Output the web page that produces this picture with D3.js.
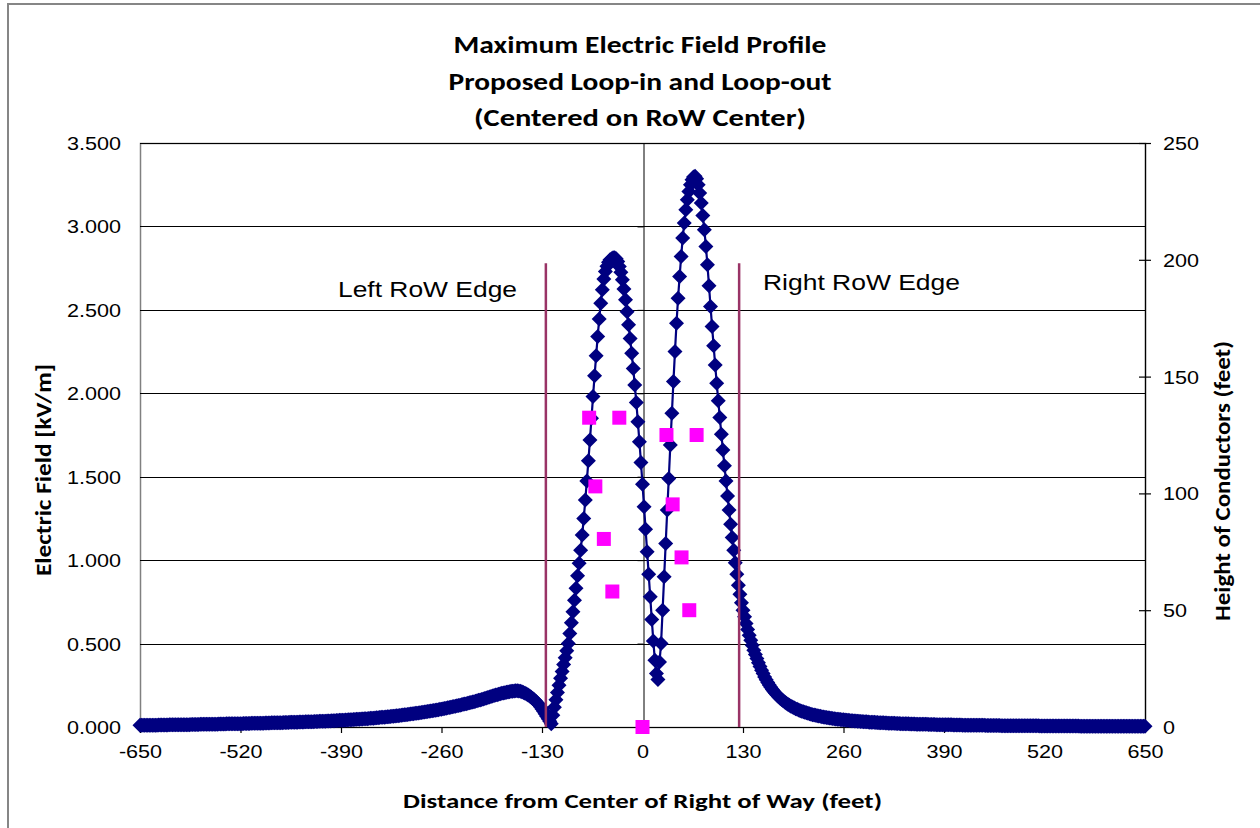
<!DOCTYPE html>
<html>
<head>
<meta charset="utf-8">
<script src="https://cdn.jsdelivr.net/npm/d3@7"></script>
<style>
  html, body { margin: 0; padding: 0; background: #fff; }
  svg { display: block; }
</style>
</head>
<body>
<svg id="chart" width="1260" height="828"></svg>
<script>
// Electric field profile sampled every 2 ft from -650 ft to +650 ft (kV/m)
const startFt = -650;
const stepFt = 2;
const fieldKV = [
  /* -650 */ 0.010,0.010,0.010,0.010,0.011,
  /* -640 */ 0.011,0.011,0.011,0.011,0.011,
  /* -630 */ 0.011,0.011,0.012,0.012,0.012,
  /* -620 */ 0.012,0.012,0.012,0.012,0.013,
  /* -610 */ 0.013,0.013,0.013,0.013,0.013,
  /* -600 */ 0.013,0.013,0.014,0.014,0.014,
  /* -590 */ 0.014,0.014,0.014,0.015,0.015,
  /* -580 */ 0.015,0.015,0.015,0.015,0.016,
  /* -570 */ 0.016,0.016,0.016,0.016,0.016,
  /* -560 */ 0.017,0.017,0.017,0.017,0.017,
  /* -550 */ 0.017,0.018,0.018,0.018,0.018,
  /* -540 */ 0.018,0.019,0.019,0.019,0.019,
  /* -530 */ 0.019,0.020,0.020,0.020,0.020,
  /* -520 */ 0.020,0.020,0.021,0.021,0.021,
  /* -510 */ 0.021,0.021,0.022,0.022,0.022,
  /* -500 */ 0.022,0.022,0.023,0.023,0.023,
  /* -490 */ 0.023,0.024,0.024,0.024,0.024,
  /* -480 */ 0.025,0.025,0.025,0.025,0.026,
  /* -470 */ 0.026,0.026,0.026,0.027,0.027,
  /* -460 */ 0.027,0.027,0.028,0.028,0.028,
  /* -450 */ 0.029,0.029,0.029,0.030,0.030,
  /* -440 */ 0.030,0.030,0.031,0.031,0.031,
  /* -430 */ 0.032,0.032,0.032,0.033,0.033,
  /* -420 */ 0.033,0.034,0.034,0.034,0.035,
  /* -410 */ 0.035,0.036,0.036,0.036,0.037,
  /* -400 */ 0.038,0.038,0.039,0.039,0.040,
  /* -390 */ 0.040,0.041,0.041,0.042,0.042,
  /* -380 */ 0.043,0.043,0.044,0.045,0.045,
  /* -370 */ 0.046,0.046,0.047,0.048,0.048,
  /* -360 */ 0.049,0.050,0.050,0.051,0.052,
  /* -350 */ 0.053,0.053,0.054,0.055,0.056,
  /* -340 */ 0.057,0.058,0.058,0.059,0.060,
  /* -330 */ 0.061,0.062,0.063,0.064,0.065,
  /* -320 */ 0.066,0.067,0.068,0.069,0.070,
  /* -310 */ 0.072,0.073,0.074,0.075,0.076,
  /* -300 */ 0.078,0.079,0.080,0.082,0.083,
  /* -290 */ 0.084,0.086,0.087,0.088,0.090,
  /* -280 */ 0.091,0.093,0.094,0.096,0.097,
  /* -270 */ 0.099,0.101,0.102,0.104,0.106,
  /* -260 */ 0.107,0.109,0.111,0.113,0.115,
  /* -250 */ 0.117,0.119,0.121,0.123,0.125,
  /* -240 */ 0.127,0.129,0.131,0.133,0.136,
  /* -230 */ 0.138,0.140,0.143,0.145,0.147,
  /* -220 */ 0.150,0.152,0.155,0.157,0.160,
  /* -210 */ 0.162,0.165,0.168,0.171,0.174,
  /* -200 */ 0.177,0.180,0.183,0.186,0.189,
  /* -190 */ 0.192,0.194,0.197,0.199,0.202,
  /* -180 */ 0.204,0.206,0.208,0.210,0.212,
  /* -170 */ 0.214,0.215,0.216,0.217,0.217,
  /* -160 */ 0.216,0.214,0.211,0.207,0.203,
  /* -150 */ 0.198,0.192,0.186,0.179,0.171,
  /* -140 */ 0.163,0.154,0.144,0.133,0.121,
  /* -130 */ 0.108,0.094,0.079,0.064,0.049,
  /* -120 */ 0.034,0.020,0.070,0.118,0.163,
  /* -110 */ 0.207,0.250,0.292,0.333,0.374,
  /* -100 */ 0.415,0.457,0.500,0.560,0.625,
  /*  -90 */ 0.690,0.760,0.832,0.906,0.982,
  /*  -80 */ 1.060,1.150,1.250,1.360,1.475,
  /*  -70 */ 1.595,1.720,1.850,1.980,2.105,
  /*  -60 */ 2.225,2.340,2.445,2.540,2.620,
  /*  -50 */ 2.685,2.730,2.762,2.785,2.800,
  /*  -40 */ 2.806,2.812,2.813,2.806,2.790,
  /*  -30 */ 2.760,2.725,2.680,2.625,2.560,
  /*  -20 */ 2.488,2.410,2.328,2.240,2.148,
  /*  -10 */ 2.050,1.945,1.830,1.710,1.585,
  /*    0 */ 1.455,1.320,1.185,1.050,0.915,
  /*   10 */ 0.780,0.645,0.515,0.400,0.320,
  /*   20 */ 0.285,0.390,0.500,0.700,0.900,
  /*   30 */ 1.100,1.300,1.490,1.690,1.880,
  /*   40 */ 2.070,2.250,2.420,2.570,2.700,
  /*   50 */ 2.820,2.930,3.020,3.100,3.160,
  /*   60 */ 3.210,3.250,3.280,3.296,3.300,
  /*   70 */ 3.285,3.250,3.200,3.140,3.065,
  /*   80 */ 2.980,2.880,2.770,2.645,2.520,
  /*   90 */ 2.400,2.285,2.170,2.060,1.955,
  /*  100 */ 1.855,1.755,1.660,1.565,1.475,
  /*  110 */ 1.385,1.300,1.215,1.135,1.060,
  /*  120 */ 0.985,0.915,0.850,0.795,0.745,
  /*  130 */ 0.700,0.660,0.620,0.585,0.550,
  /*  140 */ 0.520,0.490,0.460,0.435,0.410,
  /*  150 */ 0.385,0.362,0.340,0.320,0.300,
  /*  160 */ 0.283,0.267,0.252,0.238,0.225,
  /*  170 */ 0.213,0.202,0.192,0.182,0.173,
  /*  180 */ 0.165,0.157,0.150,0.143,0.137,
  /*  190 */ 0.131,0.125,0.120,0.115,0.110,
  /*  200 */ 0.106,0.102,0.098,0.094,0.091,
  /*  210 */ 0.088,0.085,0.082,0.079,0.076,
  /*  220 */ 0.074,0.072,0.070,0.068,0.066,
  /*  230 */ 0.064,0.062,0.060,0.058,0.057,
  /*  240 */ 0.055,0.054,0.052,0.051,0.050,
  /*  250 */ 0.048,0.047,0.046,0.045,0.044,
  /*  260 */ 0.043,0.042,0.041,0.040,0.039,
  /*  270 */ 0.038,0.037,0.036,0.036,0.035,
  /*  280 */ 0.034,0.033,0.033,0.032,0.031,
  /*  290 */ 0.031,0.030,0.029,0.029,0.028,
  /*  300 */ 0.028,0.027,0.027,0.026,0.026,
  /*  310 */ 0.025,0.025,0.024,0.024,0.023,
  /*  320 */ 0.023,0.023,0.022,0.022,0.021,
  /*  330 */ 0.021,0.021,0.020,0.020,0.020,
  /*  340 */ 0.019,0.019,0.019,0.018,0.018,
  /*  350 */ 0.018,0.018,0.017,0.017,0.017,
  /*  360 */ 0.017,0.016,0.016,0.016,0.016,
  /*  370 */ 0.015,0.015,0.015,0.015,0.015,
  /*  380 */ 0.014,0.014,0.014,0.014,0.014,
  /*  390 */ 0.013,0.013,0.013,0.013,0.013,
  /*  400 */ 0.013,0.012,0.012,0.012,0.012,
  /*  410 */ 0.012,0.012,0.011,0.011,0.011,
  /*  420 */ 0.011,0.011,0.011,0.011,0.010,
  /*  430 */ 0.010,0.010,0.010,0.010,0.010,
  /*  440 */ 0.010,0.010,0.009,0.009,0.009,
  /*  450 */ 0.009,0.009,0.009,0.009,0.009,
  /*  460 */ 0.009,0.009,0.008,0.008,0.008,
  /*  470 */ 0.008,0.008,0.008,0.008,0.008,
  /*  480 */ 0.008,0.008,0.008,0.007,0.007,
  /*  490 */ 0.007,0.007,0.007,0.007,0.007,
  /*  500 */ 0.007,0.007,0.007,0.007,0.007,
  /*  510 */ 0.007,0.007,0.006,0.006,0.006,
  /*  520 */ 0.006,0.006,0.006,0.006,0.006,
  /*  530 */ 0.006,0.006,0.006,0.006,0.006,
  /*  540 */ 0.006,0.006,0.006,0.006,0.006,
  /*  550 */ 0.006,0.006,0.006,0.006,0.006,
  /*  560 */ 0.006,0.006,0.006,0.005,0.005,
  /*  570 */ 0.005,0.005,0.005,0.005,0.005,
  /*  580 */ 0.005,0.005,0.005,0.005,0.005,
  /*  590 */ 0.005,0.005,0.005,0.005,0.005,
  /*  600 */ 0.005,0.005,0.005,0.005,0.005,
  /*  610 */ 0.005,0.005,0.005,0.005,0.005,
  /*  620 */ 0.005,0.005,0.005,0.005,0.005,
  /*  630 */ 0.005,0.005,0.005,0.005,0.005,
  /*  640 */ 0.005,0.005,0.005,0.005,0.005,
  /*  650 */ 0.005
];

// Conductor and shield-wire positions (ft from centre) and heights (ft)
const conductorX = [-69, -30, -61, -50, -39, 0, 31, 70, 39, 50.5, 60.5];
const conductorH = [132.4, 132.4, 103, 80.5, 58, 0, 125, 125, 95.3, 72.6, 50];

// Right-of-way edges (ft) and the field level their markers reach (kV/m)
const edgeX = [-125, 125];
const edgeTopKV = 2.78;
const edgeLabels = ["Left RoW Edge", "Right RoW Edge"];

const xTicks = [-650, -520, -390, -260, -130, 0, 130, 260, 390, 520, 650];
const yLeftTicks = [0, 0.5, 1.0, 1.5, 2.0, 2.5, 3.0, 3.5];
const yRightTicks = [0, 50, 100, 150, 200, 250];

const titleLines = [
  "Maximum Electric Field Profile",
  "Proposed Loop-in and Loop-out",
  "(Centered on RoW Center)"
];
const xTitle = "Distance from Center of Right of Way (feet)";
const yLeftTitle = "Electric Field [kV/m]";
const yRightTitle = "Height of Conductors (feet)";

// ---- layout ----
const plot = { left: 140, right: 1145, top: 143, bottom: 727 };
const STRETCH = 1.2;              // horizontal widening of all lettering
const ARIAL = "'Liberation Sans', Arial, sans-serif";
const HEAD = "Carlito, Calibri, Lato, 'Open Sans', sans-serif";
const crisp = v => Math.round(v) + 0.5;

const x = d3.scaleLinear().domain([-650, 650]).range([plot.left, plot.right]);
const yL = d3.scaleLinear().domain([0, 3.5]).range([plot.bottom, plot.top]);
const yR = d3.scaleLinear().domain([0, 250]).range([plot.bottom, plot.top]);

const svg = d3.select("#chart");

// widen a text element around its own anchor point
function stretch(sel) {
  sel.each(function () {
    const t = d3.select(this);
    const tx = +t.attr("x") || 0;
    t.attr("transform", `translate(${tx * (1 - STRETCH)},0) scale(${STRETCH},1)`);
  });
}

// chart frame
svg.append("rect")
  .attr("x", 8).attr("y", 4).attr("width", 1270).attr("height", 840)
  .attr("fill", "#fff").attr("stroke", "#868686").attr("stroke-width", 2);

// plot frame and horizontal gridlines
svg.append("rect")
  .attr("x", plot.left + 0.5).attr("y", plot.top + 0.5)
  .attr("width", plot.right - plot.left).attr("height", plot.bottom - plot.top)
  .attr("fill", "#fff").attr("stroke", "#808080").attr("stroke-width", 1.5);

svg.append("g").selectAll("line").data(yLeftTicks).join("line")
  .attr("x1", plot.left).attr("x2", plot.right)
  .attr("y1", d => crisp(yL(d))).attr("y2", d => crisp(yL(d)))
  .attr("stroke", "#000").attr("stroke-width", 1);

// value axis crossing at 0 ft (ticks only)
const zeroAxis = svg.append("g")
  .attr("transform", `translate(${crisp(x(0))},0)`)
  .call(d3.axisLeft(yL).tickValues(yLeftTicks).tickSize(6).tickSizeOuter(0).tickFormat(""));
zeroAxis.selectAll("path,line").attr("stroke", "#000").attr("stroke-width", 1);

// left tick labels
const leftLabels = svg.append("g")
  .attr("transform", `translate(${plot.left},0)`)
  .call(d3.axisLeft(yL).tickValues(yLeftTicks).tickSize(0).tickPadding(19).tickFormat(d3.format(".3f")));
leftLabels.select(".domain").remove();
leftLabels.selectAll("text")
  .attr("font-family", ARIAL).attr("font-size", 18).attr("fill", "#000").attr("dy", "0.36em")
  .call(stretch);

// bottom axis
const xAxis = svg.append("g")
  .attr("transform", `translate(0,${crisp(plot.bottom) - 0.5})`)
  .call(d3.axisBottom(x).tickValues(xTicks).tickSize(6).tickSizeOuter(0).tickFormat(d => String(d)));
xAxis.selectAll("path,line").attr("stroke", "#000").attr("stroke-width", 1.2);
xAxis.selectAll("text")
  .attr("font-family", ARIAL).attr("font-size", 18).attr("fill", "#000")
  .attr("y", 25).attr("dy", "0.36em")
  .call(stretch);

// right axis with ticks crossing the line
const rAxis = svg.append("g")
  .attr("transform", `translate(${plot.right},0)`)
  .call(d3.axisRight(yR).tickValues(yRightTicks).tickSize(6).tickSizeOuter(0).tickPadding(12));
rAxis.selectAll("path,line").attr("stroke", "#000").attr("stroke-width", 1.2);
rAxis.selectAll("text")
  .attr("font-family", ARIAL).attr("font-size", 18).attr("fill", "#000").attr("dy", "0.36em")
  .call(stretch);
const rInner = svg.append("g")
  .attr("transform", `translate(${plot.right},0)`)
  .call(d3.axisLeft(yR).tickValues(yRightTicks).tickSize(6).tickSizeOuter(0).tickFormat(""));
rInner.select(".domain").remove();
rInner.selectAll("line").attr("stroke", "#000").attr("stroke-width", 1.2);

// electric field series: connecting line plus diamond markers
const fieldPts = fieldKV.map((v, i) => ({ d: startFt + i * stepFt, e: v }));
const fieldLine = d3.line().x(p => x(p.d)).y(p => yL(p.e));
svg.append("path")
  .datum(fieldPts)
  .attr("d", fieldLine)
  .attr("fill", "none").attr("stroke", "#000080").attr("stroke-width", 2.2);
svg.append("g").selectAll("path").data(fieldPts).join("path")
  .attr("d", "M0,-7.5L7.5,0L0,7.5L-7.5,0Z")
  .attr("transform", p => `translate(${x(p.d)},${yL(p.e)})`)
  .attr("fill", "#000080");

// right-of-way edge markers
svg.append("g").selectAll("line").data(edgeX).join("line")
  .attr("x1", d => x(d)).attr("x2", d => x(d))
  .attr("y1", yL(0)).attr("y2", yL(edgeTopKV))
  .attr("stroke", "#993366").attr("stroke-width", 2.5);

// conductor positions on the secondary axis
const square = d3.symbol(d3.symbolSquare, 196);
svg.append("g").selectAll("path").data(conductorX).join("path")
  .attr("d", square)
  .attr("transform", (d, i) => `translate(${x(d)},${yR(conductorH[i])})`)
  .attr("fill", "#ff00ff");

// edge captions
const edgeCaption = [
  { text: edgeLabels[0], x: 338, y: 289, len: 179 },
  { text: edgeLabels[1], x: 763, y: 282, len: 197 }
];
svg.append("g").selectAll("text").data(edgeCaption).join("text")
  .attr("x", d => d.x).attr("y", d => d.y).attr("dy", "0.36em")
  .attr("font-family", ARIAL).attr("font-size", 22).attr("fill", "#000")
  .attr("textLength", d => d.len).attr("lengthAdjust", "spacingAndGlyphs")
  .text(d => d.text);

// chart title
const titleY = [44, 81, 117];
const titleLen = [373, 383, 332];
svg.append("g").selectAll("text").data(titleLines).join("text")
  .attr("x", 640).attr("y", (d, i) => titleY[i]).attr("dy", "0.36em")
  .attr("text-anchor", "middle")
  .attr("font-family", HEAD).attr("font-weight", "bold").attr("font-size", 25)
  .attr("textLength", (d, i) => titleLen[i]).attr("lengthAdjust", "spacingAndGlyphs")
  .text(d => d);

// axis titles
svg.append("text")
  .attr("x", 642.5).attr("y", 801).attr("dy", "0.36em")
  .attr("text-anchor", "middle")
  .attr("font-family", HEAD).attr("font-weight", "bold").attr("font-size", 20.5)
  .attr("textLength", 479).attr("lengthAdjust", "spacingAndGlyphs")
  .text(xTitle);

svg.append("text")
  .attr("transform", `translate(43,470) scale(${STRETCH},1) rotate(-90)`)
  .attr("dy", "0.36em").attr("text-anchor", "middle")
  .attr("font-family", HEAD).attr("font-weight", "bold").attr("font-size", 19)
  .attr("textLength", 212).attr("lengthAdjust", "spacingAndGlyphs")
  .text(yLeftTitle);

svg.append("text")
  .attr("transform", `translate(1222,481) scale(${STRETCH},1) rotate(-90)`)
  .attr("dy", "0.36em").attr("text-anchor", "middle")
  .attr("font-family", HEAD).attr("font-weight", "bold").attr("font-size", 19)
  .attr("textLength", 280).attr("lengthAdjust", "spacingAndGlyphs")
  .text(yRightTitle);
</script>
</body>
</html>
